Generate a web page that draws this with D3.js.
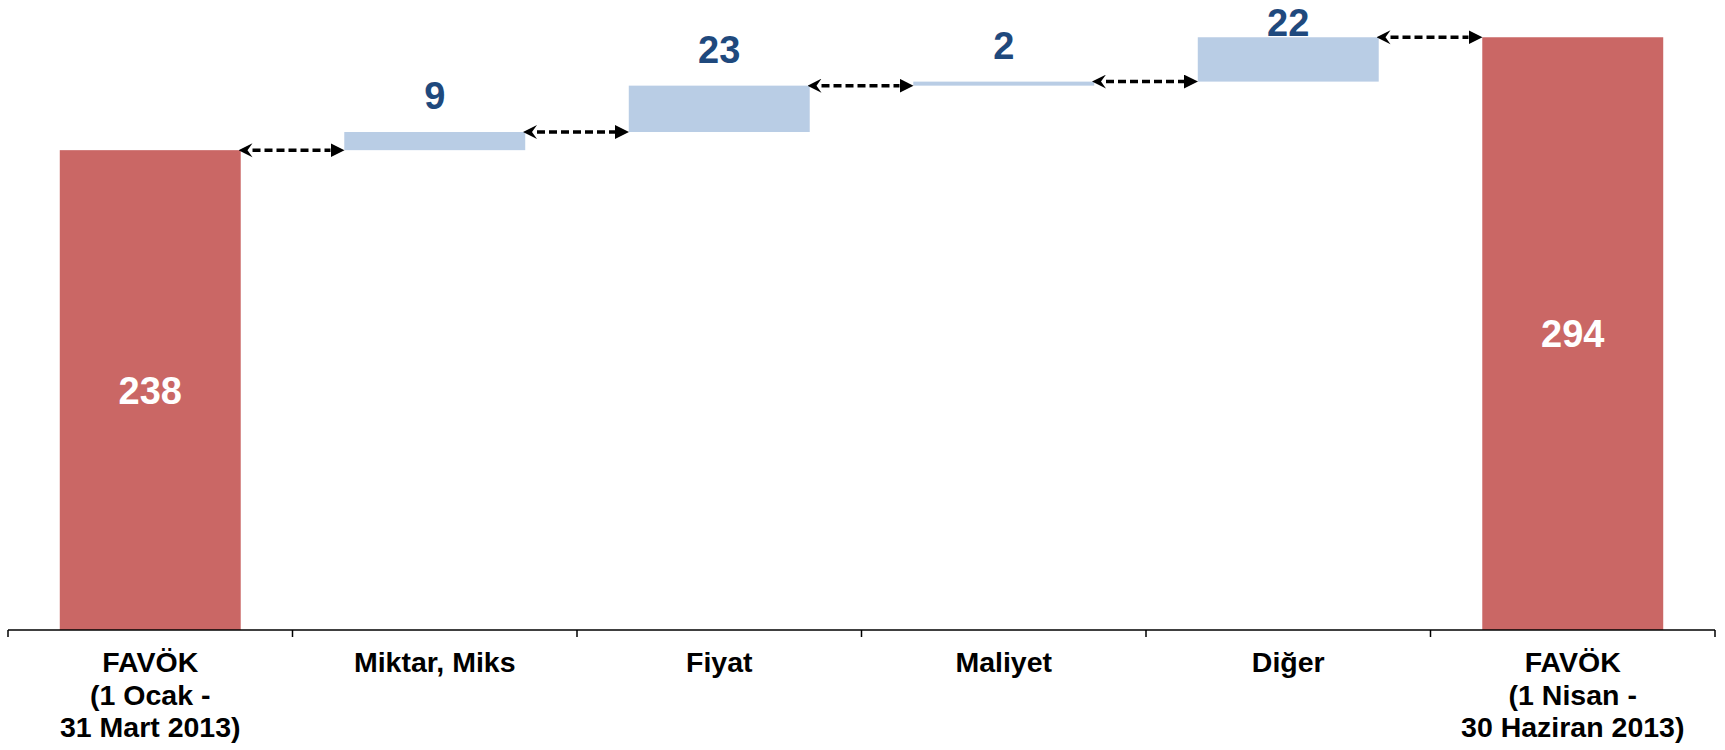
<!DOCTYPE html>
<html>
<head>
<meta charset="utf-8">
<script src="https://cdn.jsdelivr.net/npm/d3@7"></script>
<style>
  body { margin: 0; background: #fff; }
  svg { display: block; font-family: "Liberation Sans", Arial, sans-serif; }
</style>
</head>
<body>
<svg id="chart" width="1725" height="750"></svg>
<script>
const categories = ['FAVÖK (1 Ocak - 31 Mart 2013)', 'Miktar, Miks', 'Fiyat', 'Maliyet', 'Diğer', 'FAVÖK (1 Nisan - 30 Haziran 2013)'];
const tickLines = [
  ['FAVÖK', '(1 Ocak -', '31 Mart 2013)'],
  ['Miktar, Miks'],
  ['Fiyat'],
  ['Maliyet'],
  ['Diğer'],
  ['FAVÖK', '(1 Nisan -', '30 Haziran 2013)']
];
const values = [238, 9, 23, 2, 22, 294];
const kinds = ['total', 'delta', 'delta', 'delta', 'delta', 'total'];

const svg = d3.select('#chart');
const margin = {top: 5, right: 10, bottom: 120, left: 8};
const width = 1725, height = 750;

// build start / end for each bar
let running = 0;
const bars = categories.map((c, i) => {
  let start, end;
  if (kinds[i] === 'total') { start = 0; end = values[i]; running = values[i]; }
  else { start = running; end = running + values[i]; running = end; }
  return {cat: c, value: values[i], kind: kinds[i], start, end, lines: tickLines[i]};
});

const x = d3.scaleBand()
  .domain(categories)
  .range([margin.left, width - margin.right])
  .paddingInner(0.364)
  .paddingOuter(0.182);

const y = d3.scaleLinear()
  .domain([0, 310])
  .range([height - margin.bottom, margin.top]);

const defs = svg.append('defs');
defs.append('marker')
  .attr('id', 'headEnd')
  .attr('markerUnits', 'userSpaceOnUse')
  .attr('markerWidth', 15).attr('markerHeight', 15)
  .attr('refX', 0).attr('refY', 7)
  .attr('orient', 'auto')
  .append('path').attr('d', 'M0,0 L14,7 L0,14 Z').attr('fill', '#000');
defs.append('marker')
  .attr('id', 'headStart')
  .attr('markerUnits', 'userSpaceOnUse')
  .attr('markerWidth', 15).attr('markerHeight', 15)
  .attr('refX', 14).attr('refY', 7)
  .attr('orient', 'auto')
  .append('path').attr('d', 'M14,0 L0,7 L14,14 L9,7 Z').attr('fill', '#000');

// bars
svg.append('g').selectAll('rect')
  .data(bars)
  .join('rect')
    .attr('x', d => x(d.cat))
    .attr('width', x.bandwidth())
    .attr('y', d => y(Math.max(d.start, d.end)))
    .attr('height', d => Math.max(y(Math.min(d.start, d.end)) - y(Math.max(d.start, d.end)), 3))
    .attr('fill', d => d.kind === 'total' ? '#CA6765' : '#B9CDE5');

// connector arrows between bars
const step = x.step();
const gap = step * x.paddingInner();
svg.append('g').selectAll('line')
  .data(bars.slice(0, -1).map((d, i) => ({level: d.end, next: categories[i + 1]})))
  .join('line')
    .attr('x1', d => x(d.next) - gap / 2 - 52 + 12)
    .attr('x2', d => x(d.next) - gap / 2 + 52 - 14)
    .attr('y1', d => y(d.level))
    .attr('y2', d => y(d.level))
    .attr('stroke', '#000')
    .attr('stroke-width', 3.5)
    .attr('stroke-dasharray', '8,4')
    .attr('marker-start', 'url(#headStart)')
    .attr('marker-end', 'url(#headEnd)');

// value labels
svg.append('g').selectAll('text')
  .data(bars)
  .join('text')
    .attr('x', d => x(d.cat) + x.bandwidth() / 2)
    .attr('y', d => d.kind === 'total'
      ? (y(d.end) + y(0)) / 2
      : Math.max(y(d.end) - 23, 36))
    .attr('dy', d => d.kind === 'total' ? '0.36em' : 0)
    .attr('text-anchor', 'middle')
    .attr('font-size', 38)
    .attr('font-weight', 'bold')
    .attr('fill', d => d.kind === 'total' ? '#ffffff' : '#1F497D')
    .text(d => d.value);

// x axis
const xAxis = d3.axisBottom(x).tickSize(0).tickFormat('');
const xAxisG = svg.append('g')
  .attr('transform', `translate(0,${y(0)})`)
  .call(xAxis);
xAxisG.select('.domain').remove();
xAxisG.append('line')
  .attr('x1', x.range()[0]).attr('x2', x.range()[1])
  .attr('stroke', '#000').attr('stroke-width', 1.5);
xAxisG.selectAll('.sep')
  .data(d3.range(categories.length + 1))
  .join('line')
    .attr('class', 'sep')
    .attr('x1', i => x.range()[0] + i * step)
    .attr('x2', i => x.range()[0] + i * step)
    .attr('y1', 0).attr('y2', 7)
    .attr('stroke', '#000').attr('stroke-width', 1.5);

const labelG = svg.append('g');
bars.forEach(d => {
  const t = labelG.append('text')
    .attr('text-anchor', 'middle')
    .attr('font-size', 28.5)
    .attr('font-weight', 'bold')
    .attr('fill', '#000');
  d.lines.forEach((ln, j) => {
    t.append('tspan')
      .attr('x', x(d.cat) + x.bandwidth() / 2)
      .attr('y', y(0) + 42 + j * 32.5)
      .text(ln);
  });
});
</script>
</body>
</html>
